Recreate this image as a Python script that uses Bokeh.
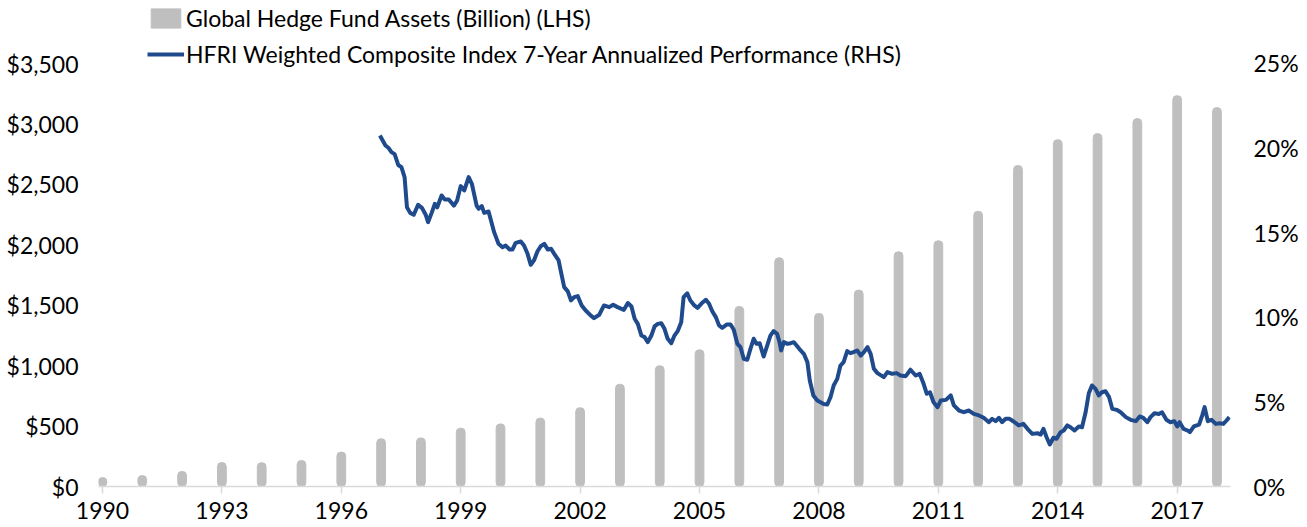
from bokeh.plotting import figure
from bokeh.models import (Range1d, LinearAxis, FixedTicker, NumeralTickFormatter,
                          PrintfTickFormatter, Legend, LegendItem)
from bokeh.embed import file_html
from bokeh.resources import INLINE

# ---- data ----
years = list(range(1990, 2019))
assets = [74, 90, 125, 198, 197, 215, 285, 395, 402, 483, 518, 566, 652, 846, 999,
          1131, 1490, 1893, 1432, 1625, 1942, 2033, 2277, 2656, 2870, 2920, 3044, 3234, 3135]

hfri_t = [1996.97, 1997.11, 1997.19, 1997.26, 1997.34, 1997.43, 1997.51, 1997.59, 1997.65, 1997.73,
          1997.82, 1997.93, 1998.03, 1998.12, 1998.18, 1998.27, 1998.35, 1998.41, 1998.52, 1998.60,
          1998.70, 1998.83, 1998.91, 1999.00, 1999.09, 1999.20, 1999.28, 1999.40, 1999.45, 1999.53,
          1999.59, 1999.70, 1999.84, 1999.95, 2000.05, 2000.13, 2000.23, 2000.30, 2000.38, 2000.51,
          2000.59, 2000.68, 2000.76, 2000.84, 2000.93, 2001.01, 2001.10, 2001.19, 2001.27, 2001.35,
          2001.46, 2001.52, 2001.60, 2001.69, 2001.77, 2001.85, 2001.94, 2002.04, 2002.14, 2002.27,
          2002.35, 2002.48, 2002.60, 2002.73, 2002.83, 2002.94, 2003.10, 2003.20, 2003.29, 2003.37,
          2003.45, 2003.54, 2003.62, 2003.70, 2003.79, 2003.87, 2003.95, 2004.04, 2004.12, 2004.20,
          2004.29, 2004.37, 2004.45, 2004.54, 2004.60, 2004.69, 2004.77, 2004.87, 2004.95, 2005.06,
          2005.16, 2005.24, 2005.32, 2005.41, 2005.49, 2005.57, 2005.68, 2005.78, 2005.86, 2005.95,
          2006.03, 2006.11, 2006.20, 2006.28, 2006.36, 2006.43, 2006.51, 2006.61, 2006.70, 2006.78,
          2006.86, 2006.95, 2007.01, 2007.05, 2007.12, 2007.21, 2007.29, 2007.37, 2007.46, 2007.54,
          2007.62, 2007.71, 2007.77, 2007.86, 2007.96, 2008.04, 2008.12, 2008.21, 2008.29, 2008.37,
          2008.46, 2008.54, 2008.62, 2008.71, 2008.79, 2008.87, 2008.96, 2009.05, 2009.13, 2009.22,
          2009.30, 2009.38, 2009.47, 2009.63, 2009.72, 2009.84, 2009.95, 2010.05, 2010.18, 2010.30,
          2010.43, 2010.53, 2010.63, 2010.71, 2010.79, 2010.88, 2010.98, 2011.06, 2011.19, 2011.31,
          2011.39, 2011.52, 2011.64, 2011.77, 2011.89, 2012.02, 2012.14, 2012.27, 2012.35, 2012.44,
          2012.52, 2012.60, 2012.69, 2012.79, 2012.89, 2013.02, 2013.14, 2013.24, 2013.36, 2013.49,
          2013.57, 2013.64, 2013.72, 2013.80, 2013.89, 2013.97, 2014.07, 2014.15, 2014.24, 2014.32,
          2014.42, 2014.53, 2014.61, 2014.70, 2014.78, 2014.86, 2014.95, 2015.03, 2015.11, 2015.20,
          2015.29, 2015.37, 2015.48, 2015.58, 2015.71, 2015.83, 2015.96, 2016.06, 2016.15, 2016.25,
          2016.33, 2016.43, 2016.54, 2016.62, 2016.73, 2016.83, 2016.93, 2017.00, 2017.06, 2017.16,
          2017.26, 2017.32, 2017.42, 2017.55, 2017.63, 2017.69, 2017.77, 2017.86, 2017.97, 2018.07,
          2018.16, 2018.24, 2018.31]
hfri_v = [20.74, 20.15, 20.00, 19.76, 19.64, 19.00, 18.87, 18.28, 16.50, 16.17,
          16.06, 16.65, 16.45, 16.06, 15.62, 16.17, 16.70, 16.50, 17.20, 16.96,
          16.96, 16.60, 16.90, 17.75, 17.50, 18.28, 17.89, 16.60, 16.41, 16.57,
          16.17, 16.25, 15.03, 14.34, 14.14, 14.24, 14.00, 14.00, 14.40, 14.48,
          14.24, 13.75, 13.10, 13.36, 13.90, 14.20, 14.34, 14.00, 14.05, 13.75,
          13.36, 12.67, 11.78, 11.53, 11.00, 11.19, 11.25, 10.70, 10.40, 10.10,
          9.95, 10.15, 10.70, 10.60, 10.74, 10.60, 10.44, 10.84, 10.64, 9.91,
          9.61, 8.92, 8.83, 8.53, 8.92, 9.46, 9.61, 9.65, 9.32, 8.73,
          8.47, 8.92, 9.18, 9.71, 11.19, 11.42, 10.99, 10.70, 10.56, 10.84,
          11.03, 10.80, 10.36, 10.01, 9.52, 9.38, 9.57, 9.57, 9.26, 8.43,
          8.23, 7.55, 7.49, 8.14, 8.73, 8.43, 8.47, 7.68, 8.33, 8.92,
          9.18, 9.02, 8.53, 8.04, 8.53, 8.43, 8.47, 8.53, 8.27, 8.04,
          7.84, 7.35, 6.26, 5.38, 5.08, 4.98, 4.88, 4.85, 5.28, 5.97,
          6.36, 7.15, 7.35, 8.00, 7.88, 7.94, 8.04, 7.74, 7.94, 8.23,
          7.84, 6.96, 6.70, 6.46, 6.76, 6.66, 6.70, 6.56, 6.52, 6.90,
          6.56, 6.66, 6.07, 5.48, 5.57, 4.98, 4.69, 5.08, 5.12, 5.38,
          4.79, 4.49, 4.39, 4.49, 4.29, 4.20, 4.06, 3.80, 4.00, 3.86,
          4.06, 3.80, 4.00, 4.00, 3.84, 3.61, 3.70, 3.41, 3.11, 3.15,
          3.07, 3.41, 2.91, 2.48, 2.88, 2.82, 3.21, 3.31, 3.61, 3.50,
          3.31, 3.55, 3.50, 4.39, 5.51, 5.97, 5.77, 5.38, 5.57, 5.63,
          5.28, 4.59, 4.53, 4.39, 4.10, 3.94, 3.86, 4.14, 4.06, 3.80,
          4.10, 4.33, 4.29, 4.39, 3.94, 3.80, 3.86, 3.55, 3.80, 3.41,
          3.31, 3.21, 3.55, 3.66, 4.20, 4.69, 3.86, 3.94, 3.70, 3.74,
          3.70, 3.90, 4.10]

x_ticks = [1990, 1993, 1996, 1999, 2002, 2005, 2008, 2011, 2014, 2017]
left_ticks = [0, 500, 1000, 1500, 2000, 2500, 3000, 3500]
right_ticks = [0, 5, 10, 15, 20, 25]

bar_label = "Global Hedge Fund Assets (Billion) (LHS)"
line_label = "HFRI Weighted Composite Index 7-Year Annualized Performance (RHS)"

FONT = "Lato"
FS = "23px"
BAR_COLOR = "#BFBFBF"
LINE_COLOR = "#1F4A8C"

# frame spans the full height above the x axis; the top 63 px hold the legend
p = figure(frame_width=1132, frame_height=486,
           x_range=Range1d(1989.9, 2018.34), y_range=Range1d(0, 4021.3),
           output_backend="svg", toolbar_location=None,
           min_border_left=98, min_border_right=77, min_border_top=0, min_border_bottom=41)
p.extra_y_ranges = {"pct": Range1d(0, 28.72)}
p.outline_line_color = None
p.background_fill_color = "white"
p.border_fill_color = "white"
p.xgrid.visible = False
p.ygrid.visible = False

bars = p.vbar(x=years, top=assets, width=0.22, fill_color=BAR_COLOR, line_color=BAR_COLOR,
              line_width=1, border_radius=4)
ln = p.line(x=hfri_t, y=hfri_v, y_range_name="pct", line_color=LINE_COLOR, line_width=4,
            line_join="round")

# axes
xa = p.xaxis[0]
xa.ticker = FixedTicker(ticks=x_ticks)
xa.formatter = PrintfTickFormatter(format="%d")
xa.axis_line_color = "#D9D9D9"
xa.axis_line_width = 1.5
xa.major_tick_line_color = "#D9D9D9"
xa.major_tick_line_width = 1.5
xa.major_tick_in = 0
xa.major_tick_out = 7
xa.minor_tick_line_color = None
xa.major_label_standoff = 8

ya = p.yaxis[0]
ya.ticker = FixedTicker(ticks=left_ticks)
ya.formatter = NumeralTickFormatter(format="$0,0")
ya.axis_line_color = None
ya.major_tick_line_color = None
ya.minor_tick_line_color = None
ya.major_tick_in = 0
ya.major_tick_out = 0
ya.major_label_standoff = 20

ra = LinearAxis(y_range_name="pct", ticker=FixedTicker(ticks=right_ticks),
                formatter=PrintfTickFormatter(format="%d%%"))
ra.axis_line_color = None
ra.major_tick_line_color = None
ra.minor_tick_line_color = None
ra.major_tick_in = 0
ra.major_tick_out = 0
ra.major_label_standoff = 23
p.add_layout(ra, "right")

for ax in (xa, ya, ra):
    ax.major_label_text_font = FONT
    ax.major_label_text_font_size = FS
    ax.major_label_text_color = "#000000"

legend = Legend(items=[LegendItem(label=bar_label, renderers=[bars]),
                       LegendItem(label=line_label, renderers=[ln])],
                location=(49, 418), orientation="vertical",
                glyph_width=37, glyph_height=24, label_height=24, label_standoff=2,
                spacing=8, padding=0, margin=0,
                background_fill_alpha=0, border_line_color=None,
                label_text_font=FONT, label_text_font_size=FS, label_text_color="#000000")
p.add_layout(legend, "center")

open("out.html", "w").write(file_html(p, INLINE))
